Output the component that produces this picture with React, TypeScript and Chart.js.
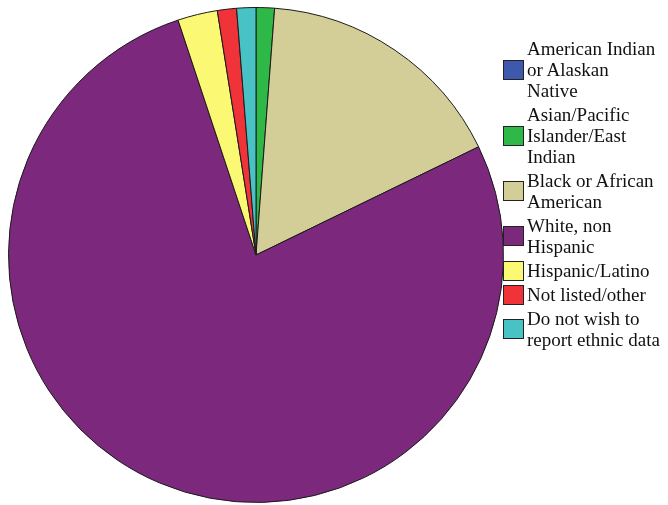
import React, { useEffect, useRef } from "react";
import { Chart, registerables } from "chart.js";

Chart.register(...registerables);

const categories: string[][] = [
  ["American Indian", "or Alaskan", "Native"],
  ["Asian/Pacific", "Islander/East", "Indian"],
  ["Black or African", "American"],
  ["White, non", "Hispanic"],
  ["Hispanic/Latino"],
  ["Not listed/other"],
  ["Do not wish to", "report ethnic data"],
];
const percents: number[] = [0, 1.2, 16.6, 77.1, 2.6, 1.25, 1.25];
const colors: string[] = ["#3E58AC", "#2EB848", "#D3CE97", "#7C287D", "#FBF873", "#EF3338", "#48C2C5"];

export default function App() {
  const ref = useRef<HTMLCanvasElement | null>(null);
  useEffect(() => {
    if (!ref.current) return;
    const chart = new Chart(ref.current, {
      type: "pie",
      data: {
        labels: categories.map((c) => c.join(" ")),
        datasets: [
          {
            data: percents,
            backgroundColor: colors,
            borderColor: "#1a1a1a",
            borderWidth: 1,
          },
        ],
      },
      options: {
        responsive: false,
        animation: false,
        layout: { padding: 7 },
        plugins: { legend: { display: false }, tooltip: { enabled: false } },
      },
    });
    return () => chart.destroy();
  }, []);

  return (
    <div style={{ position: "absolute", left: 0, top: 0, width: 668, height: 505, background: "#fff", overflow: "hidden" }}>
      <canvas ref={ref} width={512} height={510} style={{ position: "absolute", left: 0, top: 0, width: 512, height: 510 }} />
      <div
        style={{
          position: "absolute",
          left: 503,
          top: 38,
          fontFamily: "'Liberation Serif', 'Times New Roman', serif",
          fontSize: 19,
          lineHeight: "21px",
          color: "#111",
        }}
      >
        {categories.map((lines, i) => (
          <div key={i} style={{ display: "flex", alignItems: "center", marginBottom: 3 }}>
            <div
              style={{
                width: 19,
                height: 18,
                background: colors[i],
                border: "1px solid #222",
                marginRight: 3,
                flexShrink: 0,
              }}
            />
            <div style={{ whiteSpace: "nowrap" }}>
              {lines.map((l, j) => (
                <div key={j}>{l}</div>
              ))}
            </div>
          </div>
        ))}
      </div>
    </div>
  );
}
